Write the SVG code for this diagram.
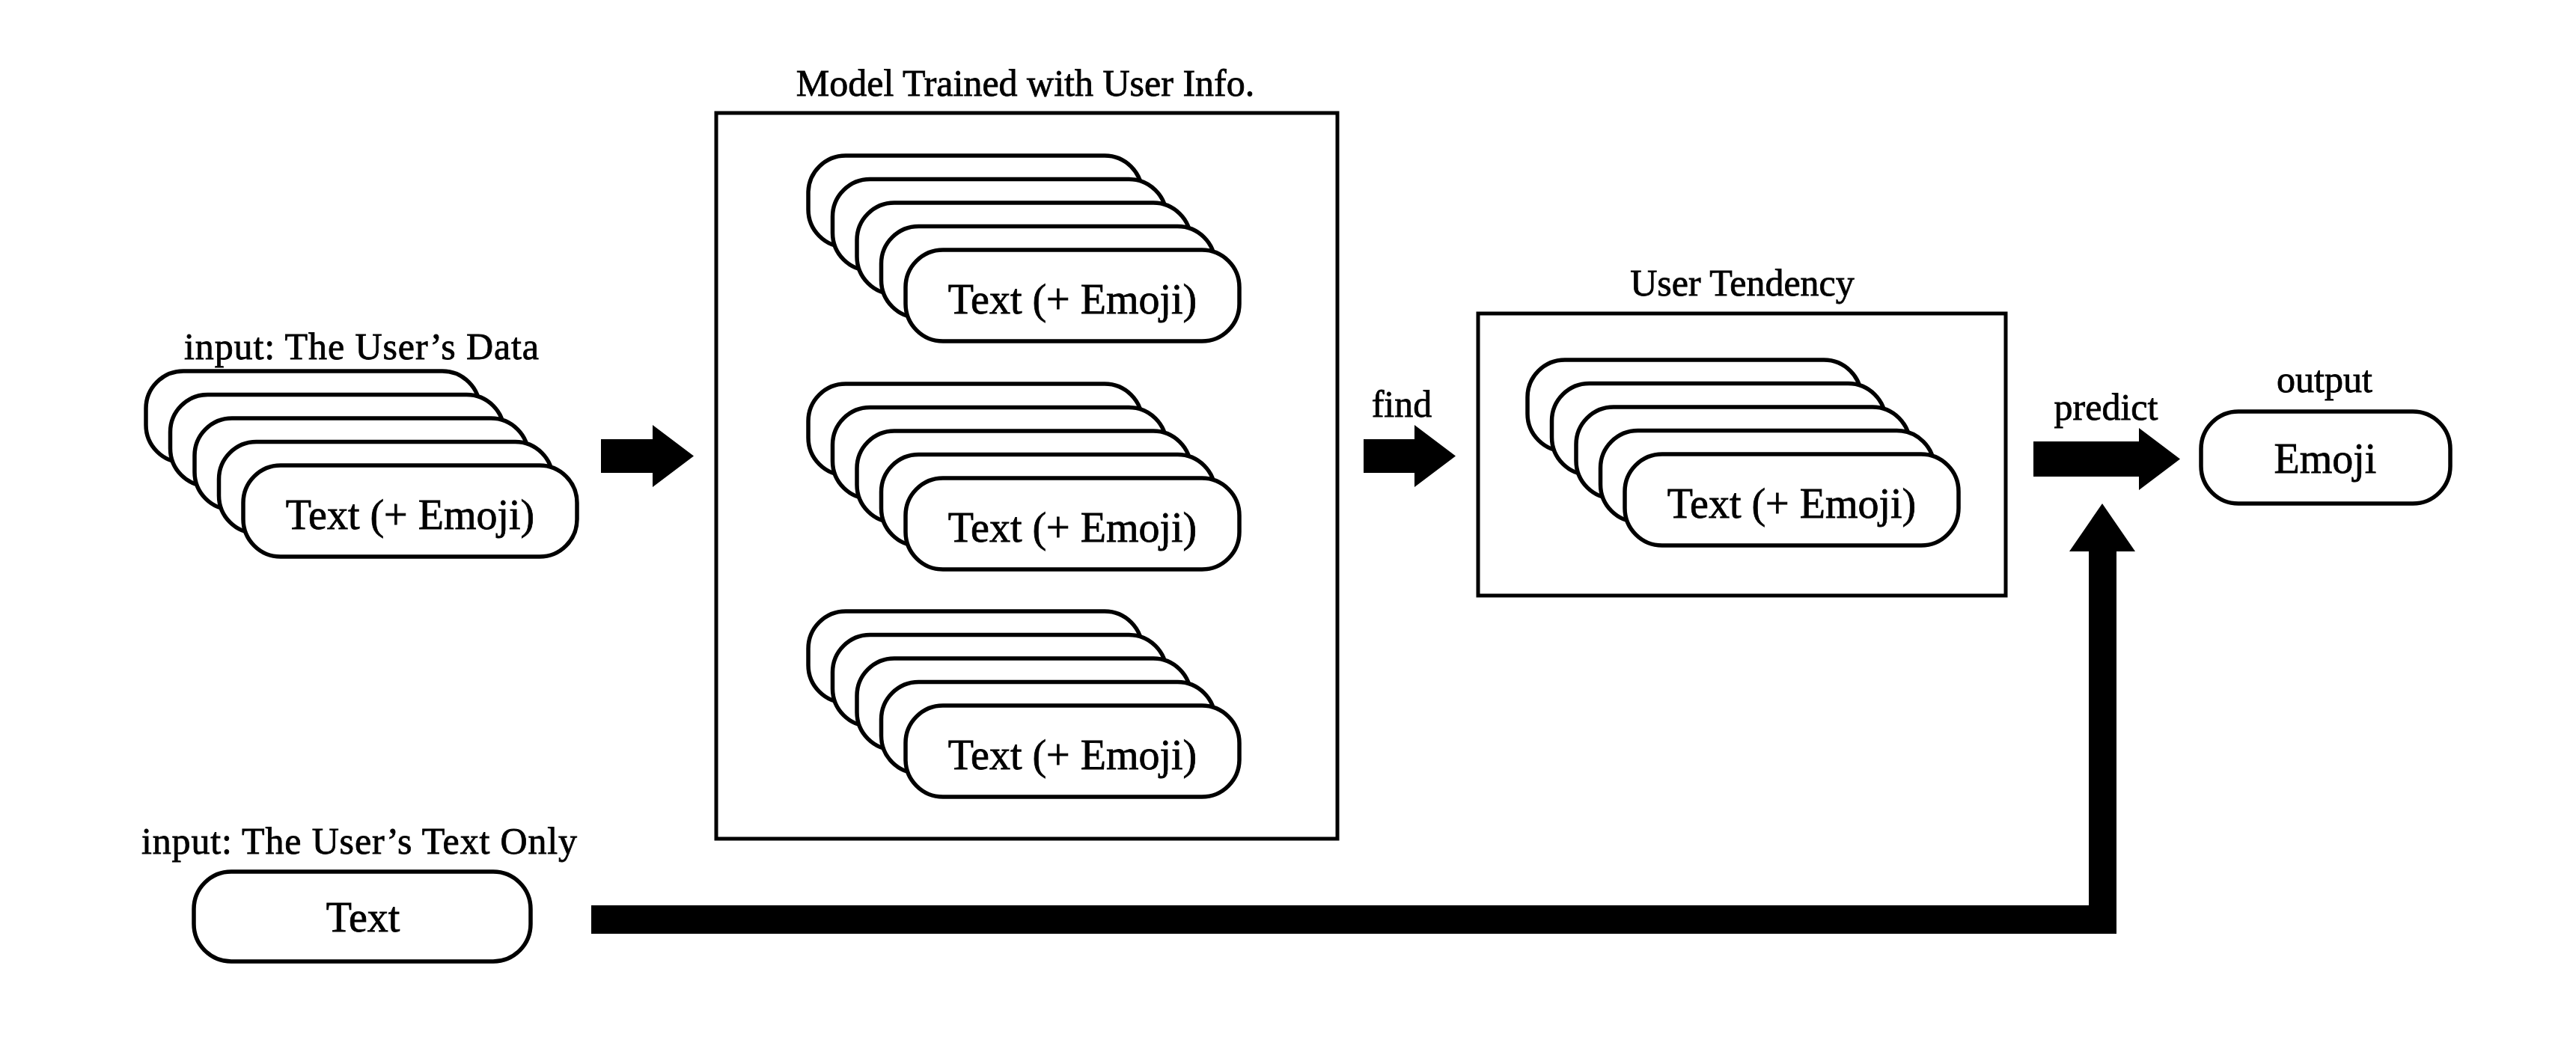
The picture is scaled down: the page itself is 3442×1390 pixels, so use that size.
<svg xmlns="http://www.w3.org/2000/svg" width="3442" height="1390" viewBox="0 0 3442 1390">
<style>
  .card { fill: #fff; stroke: #000; stroke-width: 5.5; }
  .frame { fill: none; stroke: #000; stroke-width: 5; }
  .lbl { font-family: "Liberation Serif", "Times New Roman", serif; font-size: 50px; fill: #000; stroke: #000; stroke-width: 0.8; text-anchor: middle; }
  .txt { font-family: "Liberation Serif", "Times New Roman", serif; font-size: 56px; fill: #000; stroke: #000; stroke-width: 0.8; text-anchor: middle; }
  .arrow { fill: #000; stroke: none; }
</style>
<defs>
  <g id="stack">
    <rect class="card" x="0" y="0" width="446" height="122" rx="50" ry="50"/>
    <rect class="card" x="32.5" y="31.5" width="446" height="122" rx="50" ry="50"/>
    <rect class="card" x="65" y="63" width="446" height="122" rx="50" ry="50"/>
    <rect class="card" x="97.5" y="94.5" width="446" height="122" rx="50" ry="50"/>
    <rect class="card" x="130" y="126" width="446" height="122" rx="50" ry="50"/>
    <text class="txt" x="353" y="211">Text (+ Emoji)</text>
  </g>
</defs>
<rect width="3442" height="1390" fill="#fff"/>

<g id="input-data">
  <text class="lbl" x="483" y="480" textLength="474" lengthAdjust="spacing">input: The User’s Data</text>
  <use href="#stack" x="195" y="496"/>
</g>

<g id="model">
  <text class="lbl" x="1370" y="128">Model Trained with User Info.</text>
  <rect class="frame" x="957" y="151" width="830" height="970"/>
  <use href="#stack" x="1080" y="208"/>
  <use href="#stack" x="1080" y="513"/>
  <use href="#stack" x="1080" y="817"/>
</g>

<g id="user-tendency">
  <text class="lbl" x="2328" y="395">User Tendency</text>
  <rect class="frame" x="1975" y="419" width="705" height="377" stroke-width="4.5"/>
  <use href="#stack" x="2041" y="481"/>
</g>

<g id="output">
  <text class="lbl" x="3106" y="524">output</text>
  <rect class="card" x="2941" y="550" width="333" height="123" rx="50" ry="50"/>
  <text class="txt" x="3107" y="632">Emoji</text>
</g>

<g id="input-text">
  <text class="lbl" x="480" y="1141" textLength="582" lengthAdjust="spacing">input: The User’s Text Only</text>
  <rect class="card" x="259" y="1165" width="450" height="120" rx="50" ry="50"/>
  <text class="txt" x="485" y="1245">Text</text>
</g>

<g id="connectors">
  <polygon class="arrow" points="803,587 872,587 872,568 927,609.5 872,651 872,632 803,632"/>
  <polygon class="arrow" points="1822,587 1890,587 1890,568 1945,609.5 1890,651 1890,632 1822,632"/>
  <text class="lbl" x="1873" y="557">find</text>
  <polygon class="arrow" points="2717,590 2858,590 2858,572 2913,613.5 2858,655 2858,637 2717,637"/>
  <text class="lbl" x="2814" y="561">predict</text>
  <polygon class="arrow" points="790,1210 2791,1210 2791,737 2765,737 2809,673 2853,737 2828,737 2828,1248 790,1248"/>
</g>
</svg>
